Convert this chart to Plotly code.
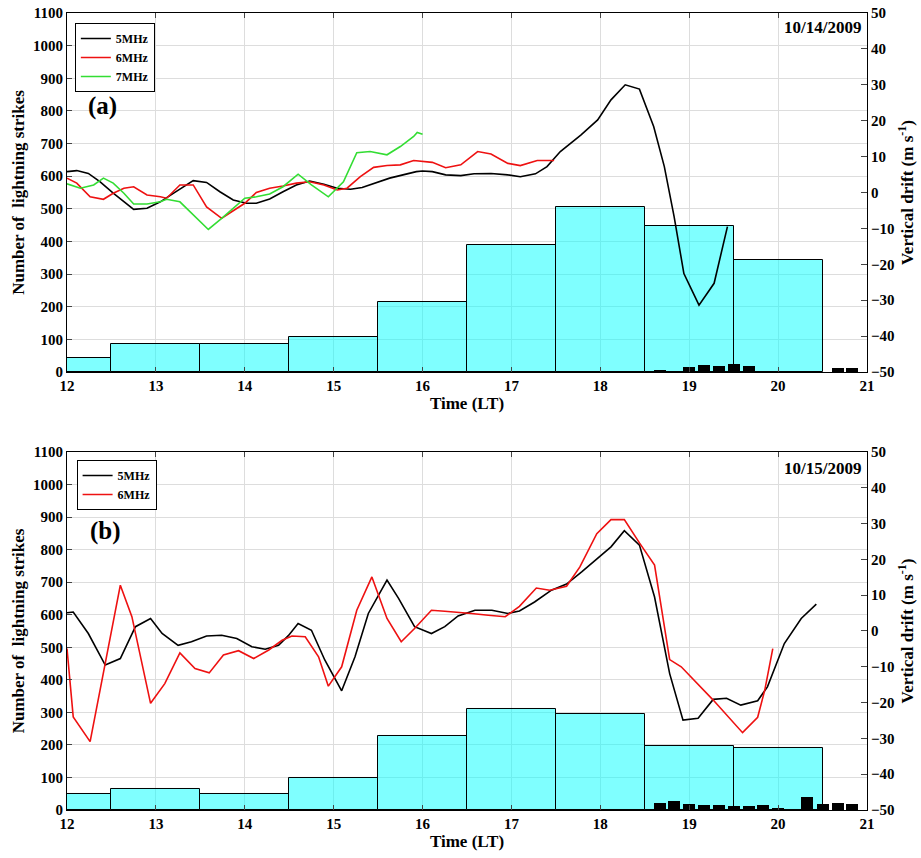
import plotly.graph_objects as go

# ---------------- data ----------------
hour_centers = [12, 13, 14, 15, 16, 17, 18, 19, 20]
strikes_a = [43, 87, 85, 107, 215, 389, 505, 448, 343]
strikes_b = [48, 66, 49, 97, 228, 310, 294, 196, 192]

fine_t_a = [18.67, 19.0, 19.17, 19.33, 19.5, 19.67, 20.67, 20.83]
fine_n_a = [5, 16, 22, 18, 23, 18, 12, 12]
fine_t_b = [18.67, 18.83, 19.0, 19.17, 19.33, 19.5, 19.67, 19.83, 20.0, 20.33, 20.5, 20.67, 20.83]
fine_n_b = [21, 29, 20, 16, 16, 11, 11, 16, 5, 40, 20, 23, 20]

t5_a = [12.0, 12.11, 12.24, 12.37, 12.52, 12.64, 12.75, 12.9, 13.05, 13.2, 13.34, 13.42, 13.57,
        13.72, 13.87, 14.02, 14.13, 14.28, 14.43, 14.58, 14.73, 14.89, 15.04, 15.19, 15.32,
        15.48, 15.63, 15.78, 15.93, 16.0, 16.11, 16.26, 16.43, 16.58, 16.77, 16.96, 17.1,
        17.27, 17.4, 17.55, 17.78, 17.97, 18.12, 18.28, 18.44, 18.6, 18.72, 18.83, 18.94,
        19.11, 19.28, 19.43]
v5_a = [5.8, 6.1, 5.3, 3.0, -0.2, -2.6, -4.7, -4.4, -2.6, -0.2, 2.1, 3.3, 2.8,
        0.2, -2.1, -3.0, -3.0, -1.8, 0.2, 2.1, 3.2, 2.3, 1.2, 0.9, 1.4,
        2.7, 4.0, 4.9, 5.8, 6.0, 5.8, 4.9, 4.7, 5.2, 5.3, 4.9, 4.4,
        5.2, 7.2, 11.4, 16.0, 20.2, 25.8, 30.0, 28.8, 18.4, 7.2, -6.7, -22.6,
        -31.4, -25.3, -9.5]

t6_a = [12.0, 12.11, 12.26, 12.41, 12.52, 12.64, 12.75, 12.9, 13.05, 13.12, 13.27, 13.42, 13.57,
        13.74, 13.87, 14.0, 14.13, 14.28, 14.43, 14.58, 14.73, 14.89, 15.04, 15.15, 15.3,
        15.45, 15.6, 15.75, 15.9, 16.0, 16.11, 16.26, 16.43, 16.62, 16.77, 16.96, 17.1,
        17.29, 17.48]
v6_a = [4.0, 2.6, -1.2, -1.9, -0.2, 1.2, 1.6, -0.7, -1.2, -1.6, 2.1, 2.1, -4.0,
        -7.2, -5.1, -3.0, 0.0, 1.2, 1.8, 2.6, 3.0, 2.1, 0.7, 1.2, 4.4,
        7.0, 7.5, 7.7, 8.9, 8.6, 8.4, 6.9, 7.7, 11.4, 10.7, 8.1, 7.5,
        8.9, 8.9]

t7_a = [12.0, 12.15, 12.3, 12.41, 12.52, 12.64, 12.75, 12.9, 13.05, 13.12, 13.27, 13.42, 13.59,
        13.74, 13.87, 14.0, 14.13, 14.28, 14.43, 14.6, 14.75, 14.94, 15.11, 15.26, 15.41,
        15.6, 15.75, 15.9, 15.94, 16.0]
v7_a = [2.4, 1.2, 2.1, 4.0, 2.6, -0.2, -3.2, -3.2, -2.6, -1.9, -2.6, -6.3, -10.3,
        -7.2, -4.4, -1.6, -1.2, -0.4, 1.6, 5.1, 2.1, -1.2, 3.0, 11.1, 11.4,
        10.5, 12.8, 15.6, 16.7, 16.2]

t5_b = [12.0, 12.07, 12.24, 12.43, 12.6, 12.77, 12.94, 13.07, 13.25, 13.4, 13.57, 13.74, 13.91,
        14.08, 14.23, 14.38, 14.49, 14.6, 14.75, 14.9, 15.09, 15.24, 15.39, 15.6, 15.73,
        15.91, 16.1, 16.25, 16.4, 16.59, 16.78, 16.96, 17.09, 17.26, 17.45, 17.62, 17.79,
        17.97, 18.12, 18.27, 18.44, 18.61, 18.78, 18.93, 19.1, 19.27, 19.42, 19.58, 19.77,
        19.88, 20.07, 20.26, 20.43]
v5_b = [5.1, 5.3, -0.7, -9.5, -7.7, 1.2, 3.5, -0.7, -4.0, -3.0, -1.4, -1.2, -2.1,
        -4.4, -5.1, -4.0, -1.3, 2.1, 0.2, -8.1, -16.7, -7.2, 4.9, 14.2, 9.1,
        1.2, -0.7, 1.2, 4.2, 5.8, 5.8, 4.9, 5.6, 8.1, 11.4, 13.1, 16.5,
        20.2, 23.5, 28.0, 24.0, 9.5, -11.9, -24.9, -24.4, -19.1, -18.8, -20.7, -19.5,
        -15.6, -3.5, 3.5, 7.5]

t6_b = [12.0, 12.07, 12.26, 12.43, 12.6, 12.73, 12.94, 13.1, 13.27, 13.44, 13.6, 13.76, 13.93,
        14.1, 14.27, 14.42, 14.53, 14.68, 14.83, 14.94, 15.09, 15.26, 15.43, 15.6, 15.76,
        15.91, 16.1, 16.25, 16.4, 16.55, 16.74, 16.93, 17.09, 17.28, 17.43, 17.62, 17.77,
        17.96, 18.12, 18.27, 18.44, 18.61, 18.78, 18.91, 19.27, 19.6, 19.77, 19.85, 19.94]
v6_b = [-4.9, -24.0, -30.9, -9.1, 12.8, 4.0, -20.2, -14.7, -6.1, -10.5, -11.7, -6.7, -5.5,
        -7.7, -5.3, -2.6, -1.4, -1.6, -7.2, -15.4, -10.0, 5.8, 15.1, 3.5, -3.0,
        0.7, 5.8, 5.5, 5.3, 4.9, 4.4, 4.0, 6.9, 12.0, 11.4, 12.5, 17.9,
        27.2, 31.1, 31.1, 24.6, 18.4, -8.0, -10.0, -19.3, -28.4, -24.1, -16.5, -4.9]

hour_ticks = [12, 13, 14, 15, 16, 17, 18, 19, 20, 21]
count_ticks = [0, 100, 200, 300, 400, 500, 600, 700, 800, 900, 1000, 1100]
drift_ticks = [-50, -40, -30, -20, -10, 0, 10, 20, 30, 40, 50]

# ---------------- figure ----------------
FONT = "Liberation Serif"
CYAN = "rgba(0,255,255,0.5)"
fig = go.Figure()

panels = [
    dict(x="x", y="y", y2="y2", leg="legend", strikes=strikes_a, ft=fine_t_a, fn=fine_n_a,
         lines=[(t5_a, v5_a, "5MHz", "black"), (t6_a, v6_a, "6MHz", "#ee1111"),
                (t7_a, v7_a, "7MHz", "#33dd33")]),
    dict(x="x2", y="y3", y2="y4", leg="legend2", strikes=strikes_b, ft=fine_t_b, fn=fine_n_b,
         lines=[(t5_b, v5_b, "5MHz", "black"), (t6_b, v6_b, "6MHz", "#ee1111")]),
]

for p in panels:
    fig.add_trace(go.Bar(x=hour_centers, y=p["strikes"], width=1, xaxis=p["x"], yaxis=p["y"],
                         marker=dict(color=CYAN, line=dict(color="black", width=1)),
                         showlegend=False))
    fig.add_trace(go.Bar(x=p["ft"], y=p["fn"], width=0.135, xaxis=p["x"], yaxis=p["y"],
                         marker=dict(color="black", line=dict(width=0)), showlegend=False))
    for t, v, name, col in p["lines"]:
        fig.add_trace(go.Scatter(x=t, y=v, mode="lines", name=name,
                                 xaxis=p["x"], yaxis=p["y2"], legend=p["leg"],
                                 line=dict(color=col, width=1.6)))

tickfont = dict(family=FONT, size=15, color="black", weight="bold")
titlefont = dict(family=FONT, size=17, color="black", weight="bold")
GRID = "#dddddd"

def xax(anchor):
    return dict(range=[12, 21], tickvals=hour_ticks, ticks="inside", ticklen=5,
                showline=True, linecolor="black", linewidth=1, mirror="ticks",
                showgrid=True, gridcolor=GRID, gridwidth=1, zeroline=False,
                tickfont=tickfont, anchor=anchor, automargin=False,
                title=dict(text="Time (LT)", font=titlefont, standoff=1))

def yax(dom, anchor):
    return dict(domain=dom, range=[0, 1100], tickvals=count_ticks, ticks="inside", ticklen=5,
                showline=True, linecolor="black", linewidth=1, showgrid=True,
                gridcolor=GRID, zeroline=False, tickfont=tickfont, anchor=anchor,
                automargin=False,
                title=dict(text="Number of  lightning strikes", font=titlefont, standoff=4))

def y2ax(over, anchor):
    return dict(overlaying=over, side="right", range=[-50, 50], tickvals=drift_ticks,
                ticks="inside", ticklen=6, showline=True, linecolor="black", linewidth=1,
                showgrid=False, zeroline=False, tickfont=tickfont, anchor=anchor,
                automargin=False,
                title=dict(text="Vertical drift (m s<sup>-1</sup>)", font=titlefont, standoff=6))

legend_style = dict(bgcolor="white", bordercolor="black", borderwidth=1,
                    font=dict(family=FONT, size=12, color="black", weight="bold"),
                    xanchor="left", yanchor="top", tracegroupgap=0, itemwidth=30)

fig.update_layout(
    width=921, height=858, margin=dict(l=67, r=54, t=13, b=48),
    paper_bgcolor="white", plot_bgcolor="white", barmode="overlay", bargap=0,
    xaxis=xax("y"), xaxis2=xax("y3"),
    yaxis=yax([0.5496, 1.0], "x"), yaxis2=y2ax("y", "x"),
    yaxis3=yax([0.0, 0.4492], "x2"), yaxis4=y2ax("y3", "x2"),
    legend=dict(x=0.0825 - 0.0727, y=1.0 - (23 - 13) / 797, **legend_style),
    legend2=dict(x=0.0847 - 0.0727, y=0.4492 - (460 - 452) / 797, **legend_style),
    annotations=[
        dict(text="(a)", xref="x domain", yref="y domain", x=0.024, y=0.74,
             xanchor="left", yanchor="middle", showarrow=False,
             font=dict(family=FONT, size=25, color="black", weight="bold")),
        dict(text="(b)", xref="x2 domain", yref="y3 domain", x=0.026, y=0.78,
             xanchor="left", yanchor="middle", showarrow=False,
             font=dict(family=FONT, size=25, color="black", weight="bold")),
        dict(text="10/14/2009", xref="x domain", yref="y domain", x=0.995, y=0.96,
             xanchor="right", yanchor="middle", showarrow=False,
             font=dict(family=FONT, size=17, color="black", weight="bold")),
        dict(text="10/15/2009", xref="x2 domain", yref="y3 domain", x=0.995, y=0.955,
             xanchor="right", yanchor="middle", showarrow=False,
             font=dict(family=FONT, size=17, color="black", weight="bold")),
    ],
)

fig.write_html("out.html")
